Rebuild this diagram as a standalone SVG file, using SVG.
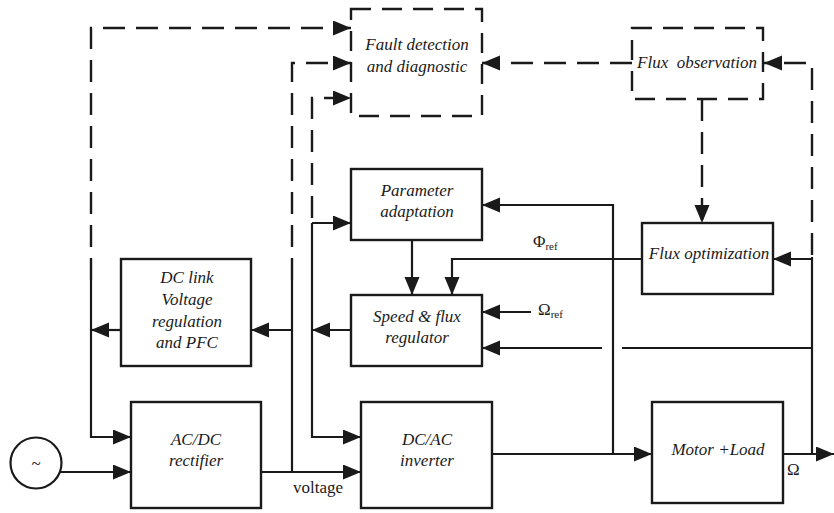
<svg xmlns="http://www.w3.org/2000/svg" width="834" height="513" viewBox="0 0 834 513">
<defs>
<marker id="ah" markerUnits="userSpaceOnUse" markerWidth="18" markerHeight="16" refX="18" refY="7.5" orient="auto">
<path d="M0,0 L18,7.5 L0,15 z" fill="#1a1a1a"/>
</marker>
<style>
.box{fill:none;stroke:#1a1a1a;stroke-width:2.4}
.dbox{fill:none;stroke:#1a1a1a;stroke-width:2.4;stroke-dasharray:20 11}
.ln{fill:none;stroke:#1a1a1a;stroke-width:2.2}
.dl{fill:none;stroke:#1a1a1a;stroke-width:2.4;stroke-dasharray:22 11}
.arr{marker-end:url(#ah)}
.lbl{font-style:italic;font-size:17px;fill:#1a1a1a;text-anchor:middle}
.rm{font-size:17px;fill:#1a1a1a}
</style>
</defs>
<rect width="834" height="513" fill="#fff"/>

<g id="connectors">
<path class="dl arr" d="M91,280 V28 H351"/>
<path class="ln arr" d="M91,280 V437 H131"/>
<path class="dl arr" d="M292,280 V63 H351"/>
<path class="ln" d="M292,280 V472"/>
<path class="ln arr" d="M292,330 H251"/>
<path class="dl arr" d="M312,218 V98 H351"/>
<path class="ln arr" d="M312,223 V437 H361"/>
<path class="ln arr" d="M312,223 H351"/>
<path class="ln arr" d="M351,330 H312"/>
<path class="ln arr" d="M121,330 H91"/>
<path class="ln arr" d="M60,472 H131"/>
<path class="ln arr" d="M261,472 H361"/>
<path class="ln arr" d="M412,240 V295"/>
<path class="ln arr" d="M492,454 H652"/>
<path class="ln arr" d="M613,454 V205 H482"/>
<path class="ln arr" d="M642,259 H452 V295"/>
<path class="ln arr" d="M531,312 H482"/>
<path class="dl arr" d="M812,255 V63 H764"/>
<path class="ln" d="M812,257 V454"/>
<path class="ln arr" d="M812,259 H773"/>
<path class="ln" d="M812,348 H622"/>
<path class="ln arr" d="M602,348 H482"/>
<path class="ln arr" d="M783,454 H834"/>
<path class="dl arr" d="M632,63 H482"/>
<path class="dl arr" d="M702,99 V223"/>
</g>

<g font-family="'Liberation Serif', 'DejaVu Serif', serif">
<g id="fault">
<rect class="dbox" x="351" y="9" width="131" height="107"/>
<text class="lbl" x="417" y="50">Fault detection</text>
<text class="lbl" x="417" y="72">and diagnostic</text>
</g>

<g id="fluxobs">
<rect class="dbox" x="632" y="28" width="131" height="71"/>
<text class="lbl" x="697" y="68" xml:space="preserve">Flux  observation</text>
</g>

<g id="param">
<rect class="box" x="351" y="169" width="131" height="71"/>
<text class="lbl" x="417" y="196">Parameter</text>
<text class="lbl" x="417" y="217">adaptation</text>
</g>

<g id="fluxopt">
<rect class="box" x="642" y="223" width="131" height="71"/>
<text class="lbl" x="709" y="259">Flux optimization</text>
</g>

<g id="speed">
<rect class="box" x="351" y="295" width="131" height="71"/>
<text class="lbl" x="417" y="322">Speed &amp; flux</text>
<text class="lbl" x="417" y="343">regulator</text>
</g>

<g id="dclink">
<rect class="box" x="121" y="259" width="130" height="107"/>
<text class="lbl" x="187" y="283">DC link</text>
<text class="lbl" x="187" y="305">Voltage</text>
<text class="lbl" x="187" y="327">regulation</text>
<text class="lbl" x="187" y="348">and PFC</text>
</g>

<g id="acdc">
<rect class="box" x="131" y="402" width="130" height="106"/>
<text class="lbl" x="196" y="445">AC/DC</text>
<text class="lbl" x="196" y="466">rectifier</text>
</g>

<g id="dcac">
<rect class="box" x="361" y="402" width="131" height="106"/>
<text class="lbl" x="427" y="445">DC/AC</text>
<text class="lbl" x="427" y="466">inverter</text>
</g>

<g id="motor">
<rect class="box" x="652" y="402" width="131" height="101"/>
<text class="lbl" x="718" y="455">Motor +Load</text>
</g>

<g id="source">
<circle cx="36" cy="463" r="25.5" fill="none" stroke="#1a1a1a" stroke-width="2.2"/>
<text class="rm" x="36" y="469" text-anchor="middle">~</text>
</g>

<g id="labels">
<text class="rm" x="293" y="493">voltage</text>
<text class="rm" x="533" y="247" font-size="16">Φ<tspan font-size="11" dy="3">ref</tspan></text>
<text class="rm" x="538" y="315" font-size="16">Ω<tspan font-size="11" dy="3">ref</tspan></text>
<text class="rm" x="787" y="475" font-size="16">Ω</text>
</g>
</g>
</svg>
